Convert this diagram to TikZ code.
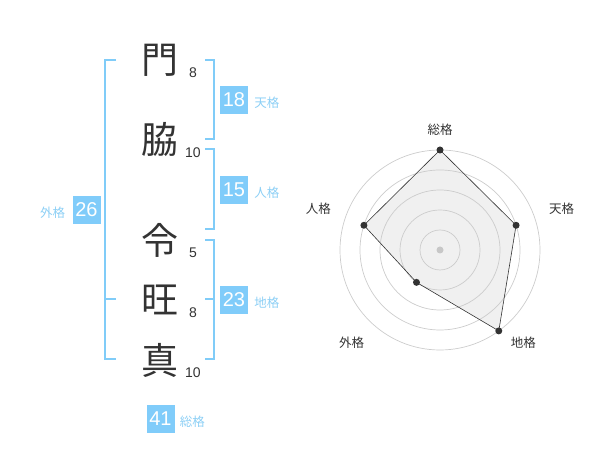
\documentclass[tikz,border=0pt]{standalone}
\usepackage{fontspec}
\setmainfont{Liberation Sans}
\newfontfamily\cjk{Noto Sans CJK JP}
\usetikzlibrary{positioning,calc}
\definecolor{skyline}{HTML}{80CCF8}
\definecolor{skybox}{HTML}{80CCFA}
\definecolor{skytext}{HTML}{8CCFF5}
\definecolor{inkgray}{HTML}{333333}
\tikzset{
  kanji/.style={font=\cjk\fontsize{37}{37}\selectfont, text=inkgray, inner sep=0pt},
  strokes/.style={font=\fontsize{14}{14}\selectfont, text=inkgray, inner sep=0pt},
  scorebox/.style={fill=skybox, text=white, minimum size=28pt, inner sep=0pt, font=\fontsize{20}{20}\selectfont},
  scorelab/.style={text=skytext, font=\cjk\fontsize{12.5}{12.5}\selectfont, inner sep=0pt},
  bracket/.style={draw=skyline, line width=2pt},
  ring/.style={draw=black!20, line width=0.7pt},
  axislab/.style={text=inkgray, font=\cjk\fontsize{12.5}{12.5}\selectfont, inner sep=0pt},
  vdot/.style={circle, fill=inkgray, inner sep=0pt, minimum size=7pt},
}
\begin{document}
\begin{tikzpicture}[x=1pt,y=1pt]
\useasboundingbox (0,0) rectangle (600,470);
% name characters and stroke counts
\node[kanji] (mon) at (160,410) {門};
\node[kanji] (waki) at (160,330) {脇};
\node[kanji] (rei) at (160,230) {令};
\node[kanji] (ou) at (160,170) {旺};
\node[kanji] (shin) at (160,110) {真};
\node[strokes] at ([shift={(33,-13)}]mon.center) {8};
\node[strokes] at ([shift={(33,-13)}]waki.center) {10};
\node[strokes] at ([shift={(33,-13)}]rei.center) {5};
\node[strokes] at ([shift={(33,-13)}]ou.center) {8};
\node[strokes] at ([shift={(33,-13)}]shin.center) {10};
% brackets
\draw[bracket] (116,410) -- (105,410) -- (105,111) -- (116,111); \draw[bracket] (105,170.7) -- (116,170.7);
\draw[bracket] (205,410) -- (214,410) -- (214,331) -- (205,331);
\draw[bracket] (205,321) -- (214,321) -- (214,241) -- (205,241);
\draw[bracket] (205,230) -- (214,230) -- (214,111) -- (205,111); \draw[bracket] (205,170.7) -- (214,170.7);
% scores
\node[scorebox] (ten) at (234,370) {18};
\node[scorelab, right=6pt of ten, yshift=-3pt] {天格};
\node[scorebox] (jin) at (234,280) {15};
\node[scorelab, right=6pt of jin, yshift=-3pt] {人格};
\node[scorebox] (chi) at (234,170) {23};
\node[scorelab, right=6pt of chi, yshift=-3pt] {地格};
\node[scorebox] (gai) at (86.5,260) {26};
\node[scorelab, left=7pt of gai, yshift=-3pt] {外格};
\node[scorebox] (sou) at (160.5,51) {41};
\node[scorelab, right=5pt of sou, yshift=-3pt] {総格};
% radar
\coordinate (ctr) at (440,220);
\coordinate (psou) at ($(ctr)+(90:100)$);
\coordinate (pten) at ($(ctr)+(18:80)$);
\coordinate (pchi) at ($(ctr)+(-54:100)$);
\coordinate (pgai) at ($(ctr)+(-126:40)$);
\coordinate (pjin) at ($(ctr)+(162:80)$);
\fill[black!6] (psou) -- (pten) -- (pchi) -- (pgai) -- (pjin) -- cycle;
\foreach \r in {20,40,60,80,100} \draw[ring] (ctr) circle (\r);
\fill[black!22] (ctr) circle (3.5);
\draw[inkgray, line width=0.6pt] (psou) -- (pten) -- (pchi) -- (pgai) -- (pjin) -- cycle;
\foreach \p in {psou,pten,pchi,pgai,pjin} \node[vdot] at (\p) {};
\node[axislab] at (440,340) {総格};
\node[axislab] at (561.7,261) {天格};
\node[axislab] at (523.3,127.7) {地格};
\node[axislab] at (351.7,127.7) {外格};
\node[axislab] at (318.3,261) {人格};
\end{tikzpicture}
\end{document}
